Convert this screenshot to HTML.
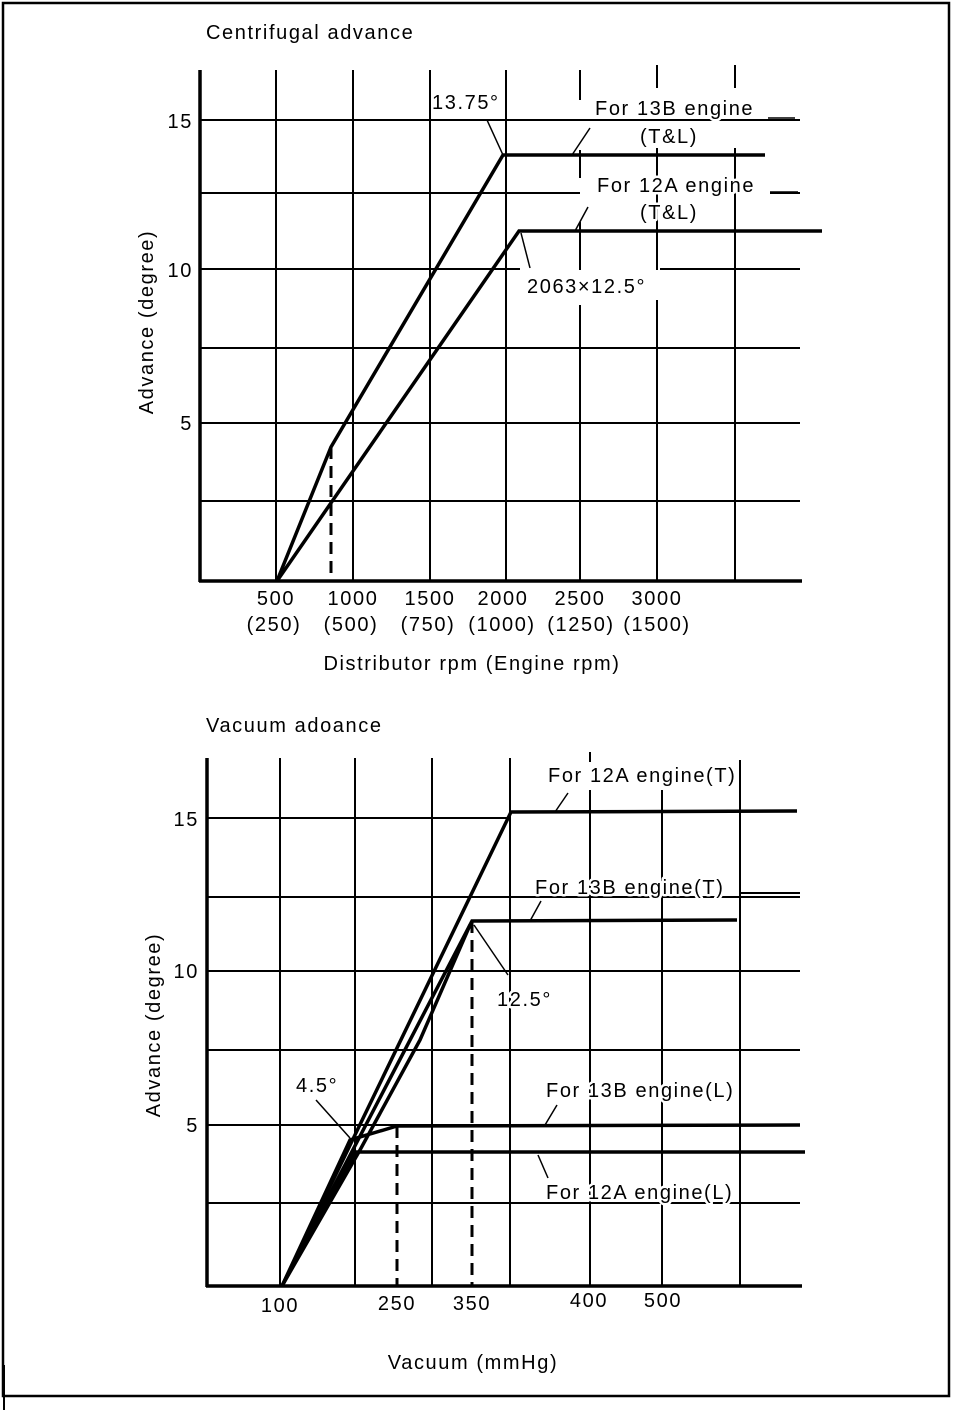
<!DOCTYPE html>
<html><head><meta charset="utf-8"><style>
body{margin:0;background:#fff}
svg{display:block}
text{font-family:"Liberation Sans",sans-serif;font-size:20px;letter-spacing:1.6px;fill:#000;stroke:#fff;stroke-width:5px;paint-order:stroke;stroke-linejoin:round}
</style></head><body>
<svg width="960" height="1422" viewBox="0 0 960 1422">
<rect x="3" y="3" width="946" height="1393" fill="none" stroke="#000" stroke-width="2.5"/>
<line x1="4" y1="1365" x2="4" y2="1410" stroke="#000" stroke-width="2"/>
<!-- TOP CHART -->
<text x="206" y="39">Centrifugal advance</text>
<g stroke="#000" stroke-width="2" fill="none">
<line x1="200" y1="120" x2="800" y2="120"/>
<line x1="200" y1="193" x2="580" y2="193"/><line x1="770" y1="193" x2="800" y2="193"/>
<line x1="200" y1="269" x2="520" y2="269"/><line x1="660" y1="269" x2="800" y2="269"/>
<line x1="200" y1="348" x2="800" y2="348"/>
<line x1="200" y1="423" x2="800" y2="423"/>
<line x1="200" y1="501" x2="800" y2="501"/>
<line x1="276" y1="70" x2="276" y2="581"/>
<line x1="353" y1="70" x2="353" y2="581"/>
<line x1="430" y1="70" x2="430" y2="581"/>
<line x1="506" y1="70" x2="506" y2="581"/>
<line x1="580" y1="70" x2="580" y2="100"/><line x1="580" y1="150" x2="580" y2="178"/><line x1="580" y1="222" x2="580" y2="270"/><line x1="580" y1="305" x2="580" y2="581"/>
<line x1="657" y1="65" x2="657" y2="88"/><line x1="657" y1="148" x2="657" y2="270"/><line x1="657" y1="300" x2="657" y2="581"/>
<line x1="735" y1="65" x2="735" y2="88"/><line x1="735" y1="148" x2="735" y2="581"/>
</g>
<g stroke="#000" stroke-width="3.5" fill="none">
<line x1="200" y1="70" x2="200" y2="582"/>
<line x1="199" y1="581" x2="802" y2="581"/>
<polyline points="277,581 331,447 503,155 765,155"/>
<polyline points="277,581 519,231 822,231"/>
</g>
<line x1="331" y1="447" x2="331" y2="581" stroke="#000" stroke-width="3" stroke-dasharray="12,7"/>
<text x="432" y="109">13.75°</text>
<text x="595" y="115">For 13B engine</text>
<text x="640" y="143">(T&amp;L)</text>
<text x="597" y="192">For 12A engine</text>
<text x="640" y="219">(T&amp;L)</text>
<text x="527" y="293">2063×12.5°</text>
<g stroke="#000" stroke-width="1.5">
<line x1="487" y1="120" x2="503" y2="155"/>
<line x1="590" y1="128" x2="572" y2="155"/>
<line x1="768" y1="118" x2="795" y2="118"/>
<line x1="588" y1="207" x2="575" y2="231"/>
<line x1="770" y1="192" x2="798" y2="192"/>
<line x1="521" y1="233" x2="530" y2="268"/>
</g>
<text x="193" y="128" text-anchor="end">15</text>
<text x="193" y="277" text-anchor="end">10</text>
<text x="193" y="430" text-anchor="end">5</text>
<g text-anchor="middle">
<text x="276" y="605">500</text><text x="353" y="605">1000</text><text x="430" y="605">1500</text><text x="503" y="605">2000</text><text x="580" y="605">2500</text><text x="657" y="605">3000</text>
<text x="274" y="631">(250)</text><text x="351" y="631">(500)</text><text x="428" y="631">(750)</text><text x="502" y="631">(1000)</text><text x="581" y="631">(1250)</text><text x="657" y="631">(1500)</text>
<text x="472" y="670">Distributor rpm (Engine rpm)</text>
</g>
<text transform="translate(153,322) rotate(-90)" text-anchor="middle">Advance (degree)</text>
<!-- BOTTOM CHART -->
<text x="206" y="732">Vacuum adoance</text>
<g stroke="#000" stroke-width="2" fill="none">
<line x1="207" y1="818" x2="510" y2="818"/>
<line x1="207" y1="897" x2="800" y2="897"/>
<line x1="207" y1="971" x2="800" y2="971"/>
<line x1="207" y1="1050" x2="800" y2="1050"/>
<line x1="207" y1="1125" x2="800" y2="1125"/>
<line x1="207" y1="1203" x2="800" y2="1203"/>
<line x1="280" y1="758" x2="280" y2="1286"/>
<line x1="355" y1="758" x2="355" y2="1286"/>
<line x1="432" y1="758" x2="432" y2="1286"/>
<line x1="510" y1="758" x2="510" y2="1286"/>
<line x1="590" y1="752" x2="590" y2="762"/><line x1="590" y1="790" x2="590" y2="1286"/>
<line x1="662" y1="790" x2="662" y2="1286"/>
<line x1="740" y1="760" x2="740" y2="1286"/>
</g>
<text x="548" y="782">For 12A engine(T)</text>
<text x="535" y="894">For 13B engine(T)</text>
<text x="497" y="1006">12.5°</text>
<text x="296" y="1092">4.5°</text>
<text x="546" y="1097">For 13B engine(L)</text>
<text x="546" y="1199">For 12A engine(L)</text>
<g stroke="#000" stroke-width="3.5" fill="none">
<line x1="207" y1="758" x2="207" y2="1287"/>
<line x1="206" y1="1286" x2="802" y2="1286"/>
<polyline points="282,1286 511,812 797,811"/>
<polyline points="282,1286 472,921 737,920"/>
<polyline points="282,1286 350,1140 397,1126 800,1125"/>
<polyline points="282,1286 355,1152 805,1152"/>
<polyline points="282,1286 360,1150 420,1040 470,925"/>
</g>
<line x1="397" y1="1126" x2="397" y2="1286" stroke="#000" stroke-width="3" stroke-dasharray="12,7"/>
<line x1="472" y1="921" x2="472" y2="1286" stroke="#000" stroke-width="3" stroke-dasharray="12,7"/>
<g stroke="#000" stroke-width="1.5">
<line x1="568" y1="793" x2="555" y2="812"/>
<line x1="541" y1="901" x2="530" y2="921"/>
<line x1="474" y1="925" x2="508" y2="975"/>
<line x1="316" y1="1100" x2="350" y2="1138"/>
<line x1="557" y1="1105" x2="545" y2="1125"/>
<line x1="538" y1="1155" x2="548" y2="1178"/>
<line x1="755" y1="1203" x2="800" y2="1203"/>
<line x1="740" y1="893" x2="800" y2="893" stroke-width="2"/>
</g>
<text x="199" y="826" text-anchor="end">15</text>
<text x="199" y="978" text-anchor="end">10</text>
<text x="199" y="1132" text-anchor="end">5</text>
<g text-anchor="middle">
<text x="280" y="1312">100</text><text x="397" y="1310">250</text><text x="472" y="1310">350</text><text x="589" y="1307">400</text><text x="663" y="1307">500</text>
<text x="473" y="1369">Vacuum (mmHg)</text>
</g>
<text transform="translate(160,1025) rotate(-90)" text-anchor="middle">Advance (degree)</text>
</svg>
</body></html>
